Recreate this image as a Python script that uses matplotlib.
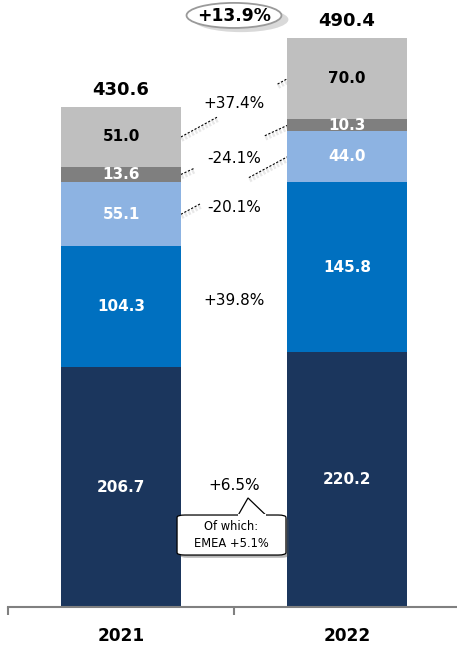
import numpy as np
import matplotlib
matplotlib.use("Agg")
import matplotlib.pyplot as plt
import matplotlib.patheffects as pe
from matplotlib.patches import FancyBboxPatch, Polygon, Ellipse

plt.rcParams['font.family'] = ['DejaVu Sans']

years = ['2021', '2022']
# stacked from bottom to top
seg_names = ['core', 'blue', 'light blue', 'dark gray', 'light gray']
seg_2021 = [206.7, 104.3, 55.1, 13.6, 51.0]
seg_2022 = [220.2, 145.8, 44.0, 10.3, 70.0]
totals = [430.6, 490.4]
growth_labels = ['+6.5%', '+39.8%', '-20.1%', '-24.1%', '+37.4%']
total_growth = '+13.9%'

colors = ['#1b365d', '#0070c0', '#8db3e2', '#7f7f7f', '#bfbfbf']
label_colors = ['white', 'white', 'white', 'white', 'black']

fig = plt.figure(figsize=(4.57, 6.45), dpi=100)
ax = fig.add_axes([8 / 457, 38 / 645, 452 / 457, 607 / 645])

x = np.arange(len(years))
width = 0.53
values = np.array([seg_2021, seg_2022])
bottoms = np.zeros(len(years))
for i in range(len(seg_names)):
    ax.bar(x, values[:, i], width, bottom=bottoms, color=colors[i], zorder=2)
    for j in range(len(years)):
        ax.text(x[j], bottoms[j] + values[j, i] / 2, f'{values[j, i]:.1f}',
                ha='center', va='center', color=label_colors[i],
                fontsize=11, fontweight='bold', zorder=3)
    bottoms += values[:, i]

for j in range(len(years)):
    ax.text(x[j], totals[j] + 7, f'{totals[j]:.1f}', ha='center', va='bottom',
            fontsize=13, fontweight='bold')

# dashed connectors between matching segments, broken around the labels
cum21 = np.cumsum(seg_2021) - np.array(seg_2021) / 2
cum22 = np.cumsum(seg_2022) - np.array(seg_2022) / 2
gaps = {4: (0.35, 0.91), 3: (0.13, 0.79), 2: (0.18, 0.64)}
x0, x1 = x[0] + width / 2, x[1] - width / 2
shadow = [pe.SimpleLineShadow(offset=(0.5, -2), shadow_color='#bbbbbb', alpha=0.35,
                              linewidth=3),
          pe.Normal()]
for i, (f0, f1) in gaps.items():
    y0, y1 = cum21[i], cum22[i]
    for a, b in [(0, f0), (f1, 1)]:
        ax.plot([x0 + a * (x1 - x0), x0 + b * (x1 - x0)],
                [y0 + a * (y1 - y0), y0 + b * (y1 - y0)],
                color='black', lw=0.8, ls=(0, (2, 1.5)), zorder=1,
                path_effects=shadow)

growth_y = [105, 264.6, 344, 387, 434.5]
for lab, gy in zip(growth_labels, growth_y):
    ax.text(0.5, gy, lab, ha='center', va='center', fontsize=11)

# total growth bubble
ell = Ellipse((0.5, 510), 0.42, 21.6, fc='white', ec='#9a9a9a', lw=1.3,
              zorder=4, clip_on=False)
ell.set_path_effects([
    pe.SimplePatchShadow(offset=(5, -3), shadow_rgbFace='#a0a0a0', alpha=0.4),
    pe.Normal()])
ax.add_patch(ell)
ax.text(0.5, 509.5, total_growth, ha='center', va='center', fontsize=12.3,
        fontweight='bold', zorder=5)

# callout under +6.5%
box = FancyBboxPatch((0.248, 44.8), 0.482, 34.5,
                     boxstyle='round,pad=0,rounding_size=0.035',
                     fc='white', ec='black', lw=0.9, zorder=4,
                     mutation_aspect=60)
box.set_path_effects([pe.SimplePatchShadow(offset=(2, -2), alpha=0.4), pe.Normal()])
ax.add_patch(box)
tip = [(0.518, 79.0), (0.562, 94.0), (0.642, 79.0)]
ax.add_patch(Polygon(tip, closed=False, fc='white', ec='black', lw=0.9, zorder=5))
ax.plot([0.518 + 0.004, 0.642 - 0.004], [79.3, 79.3], color='white', lw=1.5, zorder=6)
ax.text(0.489, 62, 'Of which:\nEMEA +5.1%', ha='center', va='center',
        fontsize=8.3, linespacing=1.45, zorder=7)

ax.set_xlim(-0.5, 1.5)
ax.set_ylim(0, 523.3)
for s in ['top', 'right', 'left']:
    ax.spines[s].set_visible(False)
ax.spines['bottom'].set_color('#808080')
ax.spines['bottom'].set_linewidth(1.5)
ax.set_yticks([])
ax.set_xticks([-0.5, 0.5, 1.5])
ax.set_xticklabels([])
ax.tick_params(axis='x', length=6, width=1.5, color='#808080')
for j in range(len(years)):
    ax.text(x[j], -25, years[j], ha='center', va='center', fontsize=12.2,
            fontweight='bold', clip_on=False)

fig.savefig('out.png', dpi=100)
